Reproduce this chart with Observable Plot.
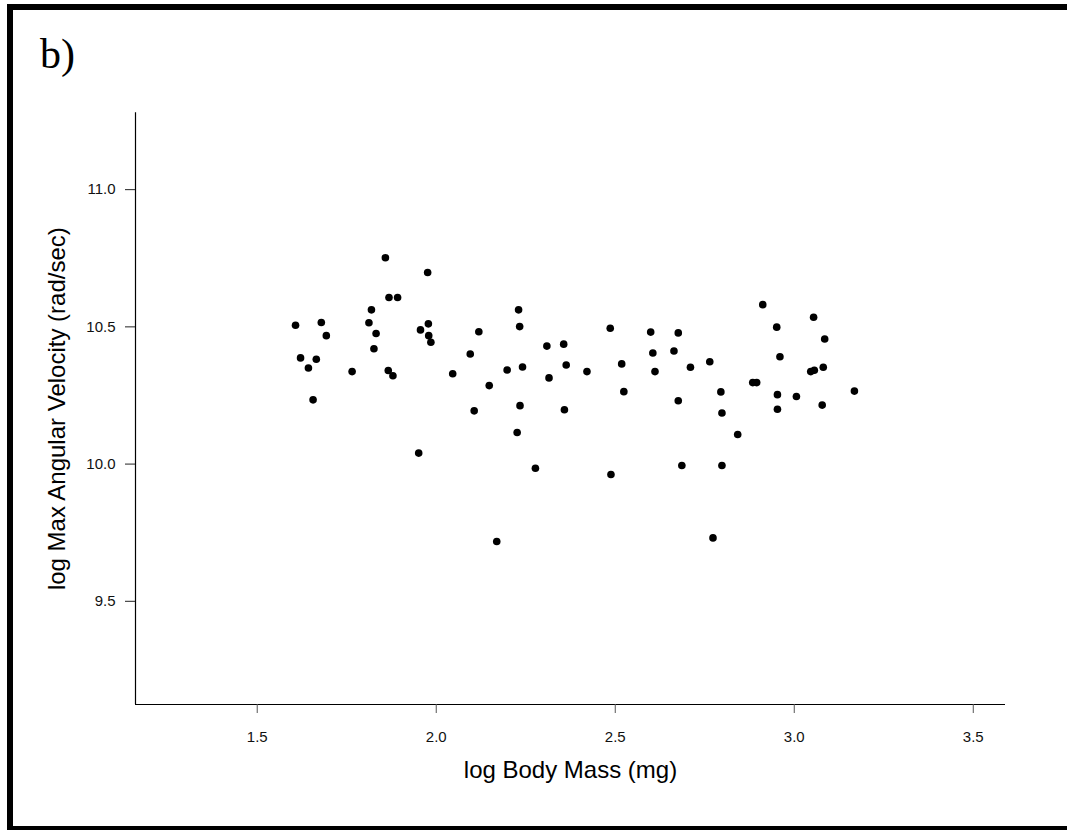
<!DOCTYPE html>
<html>
<head>
<meta charset="utf-8">
<script src="https://cdn.jsdelivr.net/npm/d3@7"></script>
<script src="https://cdn.jsdelivr.net/npm/@observablehq/plot@0.6"></script>
<style>
  html, body { margin: 0; padding: 0; background: #fff; overflow: hidden; }
  #wrap { position: relative; width: 1067px; height: 830px; overflow: hidden; }
  #border { position: absolute; left: 7px; top: 4px; width: 1075px; height: 828px;
            border: 6px solid #000; box-sizing: border-box; }
  #panel { position: absolute; left: 0; top: 0; }
  #chart { position: absolute; left: 0; top: 0; }
</style>
</head>
<body>
<div id="wrap">
  <div id="border"></div>
  <svg id="panel" width="200" height="100"><text x="40" y="68" font-family="'Liberation Serif', 'Times New Roman', serif" font-size="42" fill="#000">b)</text></svg>
  <div id="chart"></div>
</div>
<script>
// log Body Mass (mg)
const bodyMass = [
  1.858,1.976,1.868,1.892,1.819,1.607,1.679,1.812,1.978,1.956,
  1.693,1.832,1.979,1.985,1.826,1.621,1.665,1.643,1.765,1.866,
  1.879,1.656,2.230,2.233,2.119,2.486,2.309,2.356,2.095,2.046,
  2.198,2.241,2.363,2.421,2.518,2.315,2.148,2.524,2.106,2.234,
  2.358,2.912,3.054,2.951,2.599,2.676,3.085,2.605,2.664,2.960,
  2.710,2.764,2.611,3.046,3.056,3.081,2.884,2.895,2.795,2.953,
  3.006,3.168,2.676,3.078,2.798,2.953,2.226,1.951,2.842,2.277,
  2.488,2.686,2.798,2.169,2.773
];
// log Max Angular Velocity (rad/sec)
const angVel = [
  10.752,10.698,10.607,10.607,10.562,10.506,10.516,10.515,10.511,10.489,
  10.468,10.476,10.468,10.444,10.420,10.387,10.382,10.350,10.337,10.341,
  10.322,10.234,10.562,10.501,10.482,10.495,10.430,10.437,10.401,10.329,
  10.343,10.354,10.361,10.337,10.365,10.314,10.286,10.264,10.194,10.213,
  10.198,10.581,10.535,10.499,10.481,10.478,10.456,10.405,10.412,10.391,
  10.353,10.373,10.337,10.337,10.342,10.353,10.297,10.297,10.263,10.253,
  10.246,10.266,10.231,10.215,10.186,10.200,10.115,10.040,10.108,9.985,
  9.962,9.995,9.995,9.718,9.731
];
const xTicks = [1.5, 2.0, 2.5, 3.0, 3.5];
const yTicks = [9.5, 10.0, 10.5, 11.0];
const xDomain = [1.16, 3.59];
const yDomain = [9.124, 11.28];
const xTitle = "log Body Mass (mg)";
const yTitle = "log Max Angular Velocity (rad/sec)";

const data = bodyMass.map((x, i) => ({x, y: angVel[i]}));
const font = "'Liberation Sans', Arial, Helvetica, sans-serif";

const chart = Plot.plot({
  width: 1067,
  height: 830,
  marginLeft: 135,
  marginRight: 62,
  marginTop: 112.3,
  marginBottom: 126,
  style: { background: "transparent", fontFamily: font, color: "#000" },
  x: { domain: xDomain, label: null },
  y: { domain: yDomain, label: null },
  marks: [
    Plot.ruleY([yDomain[0]], { stroke: "#000", strokeWidth: 1.2 }),
    Plot.ruleX([xDomain[0]], { stroke: "#000", strokeWidth: 1.2 }),
    Plot.axisX(xTicks, { tickSize: 9, tickPadding: 18, fontSize: 15, tickFormat: d3.format(".1f"), stroke: "#555", fill: "#111", label: null }),
    Plot.axisY(yTicks, { tickSize: 10, tickPadding: 10, fontSize: 15, tickFormat: d3.format(".1f"), stroke: "#222", fill: "#111", label: null }),
    Plot.text([xTitle], { frameAnchor: "bottom", dy: 73, fontSize: 24, fill: "#000", lineAnchor: "bottom", textAnchor: "middle" }),
    Plot.text([yTitle], { frameAnchor: "left", dx: -78, rotate: -90, fontSize: 24, fill: "#000", textAnchor: "middle", lineAnchor: "middle" }),
    Plot.dot(data, { x: "x", y: "y", r: 3.8, fill: "#000", stroke: "none" })
  ]
});
document.getElementById("chart").appendChild(chart);
</script>
</body>
</html>
